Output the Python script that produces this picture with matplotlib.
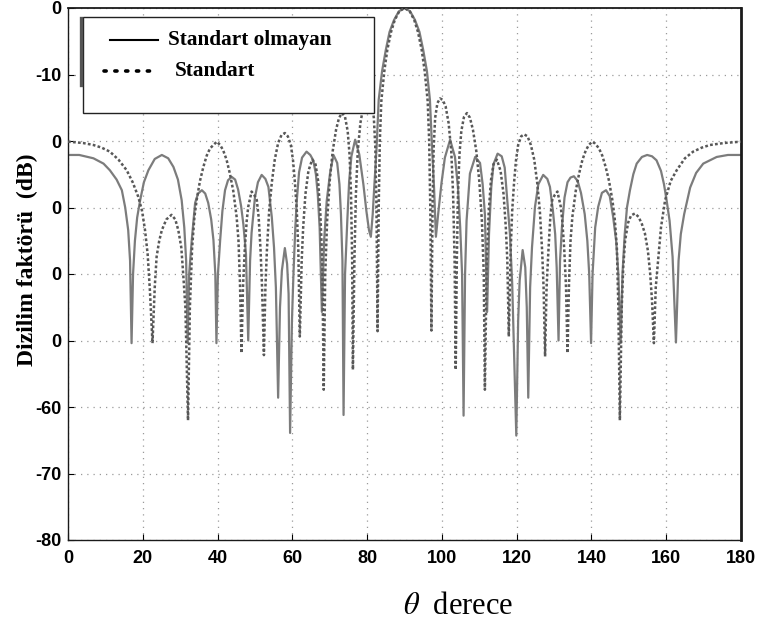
import numpy as np
import matplotlib
matplotlib.use("Agg")
import matplotlib.pyplot as plt
from matplotlib.patches import Rectangle

plt.rcParams['mathtext.fontset'] = 'stix'
plt.rcParams['axes.unicode_minus'] = False

# (theta [deg], array factor [dB]), solid curve
nonstd_left = [
    (0, -22.1), (3, -22.1), (6.8, -22.6), (9.5, -23.4), (11.2, -24.4), (13.0, -25.8),
    (14.4, -27.4), (15.3, -30.0), (16.1, -33.4), (16.6, -38.0), (17.0, -50.4), (17.4, -40.0),
    (17.9, -35.0), (18.5, -31.5), (19.3, -28.9), (20.3, -26.2), (21.5, -24.4), (23.2, -22.7),
    (25.1, -22.1), (26.8, -22.6), (28.2, -23.9), (29.4, -25.8), (30.4, -28.9), (31.1, -33.0),
    (31.6, -38.0), (32.0, -50.4), (32.4, -40.0), (33.1, -34.9), (34.0, -29.3), (34.8, -27.9),
    (35.8, -27.4), (36.7, -27.9), (37.5, -29.3), (38.3, -31.8), (38.9, -34.9), (39.4, -40.0),
    (39.7, -50.4), (40.1, -40.0), (40.7, -34.9), (41.3, -30.5), (42.0, -27.4), (42.8, -25.9),
    (43.8, -25.4), (44.7, -25.8), (45.5, -27.3), (46.3, -29.8), (46.9, -32.5), (47.6, -37.0),
    (48.2, -50.0), (48.7, -38.0), (49.1, -33.8), (50.0, -28.5), (50.8, -26.2), (51.8, -25.1),
    (52.8, -25.7), (53.6, -26.9), (54.5, -31.4), (55.1, -36.0), (55.6, -42.0), (56.2, -58.6),
    (56.7, -45.0), (57.2, -39.5), (58.0, -36.1), (58.6, -38.5), (59.0, -43.0), (59.4, -63.9),
    (59.9, -47.0), (60.3, -40.0), (60.8, -33.0), (61.2, -28.9), (61.8, -24.7), (62.6, -22.5),
    (63.8, -21.6), (64.8, -22.1), (65.6, -22.9), (66.3, -25.0), (66.8, -28.0), (67.3, -33.0),
    (67.9, -45.7), (68.5, -35.0), (69.2, -29.0), (70.1, -24.8), (71.0, -22.1), (72.0, -23.3),
    (72.6, -26.5), (73.0, -31.0), (73.4, -38.0), (73.7, -61.2), (74.1, -40.0), (74.7, -32.0),
    (75.2, -26.0), (75.8, -22.3), (76.8, -19.8), (77.9, -22.0), (79.0, -26.5), (79.8, -30.5),
    (80.5, -33.4), (81.0, -34.4), (81.5, -31.0), (81.9, -27.0), (82.5, -21.4), (83.1, -13.8),
    (84.0, -9.5), (85.0, -6.3), (86.0, -3.6), (87.2, -1.8), (88.5, -0.5), (90.0, 0.0),
]
nonstd_right = [
    (91.5, -0.5), (92.8, -1.8), (94.0, -3.6), (95.0, -6.3), (96.0, -9.5), (96.8, -13.8),
    (97.4, -21.4), (97.9, -27.0), (98.4, -34.4), (99.0, -31.0), (99.9, -26.3), (100.8, -22.5),
    (102.2, -19.8), (103.5, -22.4), (104.3, -27.0), (104.9, -33.0), (105.4, -40.0), (105.8, -61.3),
    (106.2, -40.0), (106.6, -32.0), (107.5, -24.9), (108.9, -22.4), (110.2, -23.3), (110.9, -26.5),
    (111.5, -31.0), (112.1, -45.7), (112.6, -34.0), (113.2, -27.0), (113.8, -23.5), (114.9, -21.9),
    (116.0, -22.3), (116.8, -24.0), (117.5, -28.9), (118.2, -34.0), (118.8, -41.4), (119.9, -64.3),
    (120.4, -47.0), (120.8, -41.0), (121.6, -36.4), (122.3, -39.0), (122.7, -45.0), (123.1, -58.6),
    (123.6, -42.0), (124.1, -36.0), (124.9, -29.9), (125.8, -26.5), (127.1, -25.1), (128.2, -25.7),
    (128.9, -26.9), (129.7, -30.5), (130.3, -34.0), (130.7, -39.0), (131.2, -50.0), (131.6, -38.0),
    (132.1, -33.0), (132.8, -28.5), (133.6, -26.2), (134.4, -25.5), (135.3, -25.3), (136.3, -26.0),
    (137.2, -27.8), (138.2, -31.0), (138.9, -35.0), (139.4, -40.0), (139.9, -50.4), (140.3, -40.0),
    (141.0, -33.0), (141.8, -29.9), (142.8, -27.8), (143.9, -27.4), (144.9, -28.3), (145.8, -31.4),
    (146.6, -35.0), (147.2, -40.0), (147.8, -50.4), (148.3, -40.0), (148.9, -34.0), (149.5, -30.0),
    (150.3, -27.4), (151.2, -25.0), (152.1, -23.4), (153.5, -22.4), (154.9, -22.1), (156.2, -22.3),
    (157.4, -22.9), (158.6, -24.5), (159.4, -26.5), (160.1, -28.9), (160.9, -32.0), (161.7, -37.4),
    (162.6, -50.3), (163.3, -38.0), (163.9, -34.0), (164.8, -31.0), (166.4, -27.0), (168.0, -24.8),
    (169.9, -23.4), (173.5, -22.4), (176.5, -22.1), (180.0, -22.1),
]

# dotted curve ("Standart")
std_left = [
    (0, -20.1), (4.0, -20.3), (6.8, -20.6), (9.0, -21.0), (11.2, -21.6), (13.5, -22.8),
    (15.7, -24.4), (17.3, -26.2), (18.8, -28.4), (19.8, -30.5), (20.6, -33.4), (21.3, -37.0),
    (21.9, -42.4), (22.6, -50.4), (23.2, -42.0), (23.7, -37.4), (24.4, -35.0), (25.1, -33.4),
    (26.3, -31.8), (27.7, -31.1), (28.7, -31.8), (29.5, -33.4), (30.3, -36.0), (30.8, -39.9),
    (31.4, -45.0), (32.1, -62.0), (32.6, -45.0), (33.2, -36.0), (33.8, -31.5), (34.4, -28.9),
    (35.3, -26.0), (36.2, -23.9), (37.1, -22.2), (38.0, -21.1), (39.8, -20.1), (40.7, -20.6),
    (41.5, -21.4), (42.4, -22.8), (43.3, -24.9), (44.2, -27.5), (45.1, -31.4), (45.6, -35.0),
    (46.0, -41.4), (46.4, -51.9), (46.8, -42.0), (47.3, -36.0), (47.8, -32.0), (48.2, -29.9),
    (49.1, -27.6), (49.8, -28.1), (50.5, -28.9), (51.0, -31.5), (51.5, -36.4), (51.9, -42.0),
    (52.4, -52.2), (52.8, -42.0), (53.2, -36.4), (53.8, -30.5), (54.5, -26.3), (55.3, -22.8),
    (56.2, -20.3), (57.1, -19.1), (58.0, -18.8), (58.8, -19.3), (59.6, -20.6), (60.2, -23.0),
    (60.7, -26.3), (61.2, -30.5), (61.6, -36.4), (62.0, -49.4), (62.5, -38.0), (62.9, -33.0),
    (63.5, -28.0), (64.3, -24.5), (65.3, -22.8), (66.2, -23.5), (66.9, -26.0), (67.5, -31.0),
    (68.0, -38.0), (68.4, -57.4), (68.8, -40.0), (69.3, -32.0), (70.0, -26.0), (70.8, -21.5),
    (71.7, -18.3), (72.5, -16.5), (73.3, -15.8), (74.1, -16.4), (74.8, -18.5), (75.3, -22.0),
    (75.7, -28.0), (76.0, -38.0), (76.2, -54.4), (76.6, -38.0), (77.0, -28.0), (77.5, -21.5),
    (78.2, -17.3), (79.0, -14.8), (79.8, -13.8), (80.5, -13.6), (81.2, -14.3), (81.8, -16.5),
    (82.2, -21.0), (82.5, -30.0), (82.8, -48.6), (83.1, -30.0), (83.4, -20.0), (83.8, -14.0),
    (84.6, -9.5), (85.4, -6.3), (86.4, -3.6), (87.4, -1.8), (88.6, -0.5), (90.0, 0.0),
]
std_right = [
    (91.4, -0.5), (92.6, -1.8), (93.6, -3.6), (94.6, -6.3), (95.4, -9.5), (96.2, -14.0),
    (96.6, -20.0), (96.9, -30.0), (97.2, -48.5), (97.5, -30.0), (97.8, -21.0), (98.2, -16.5),
    (98.8, -14.3), (99.5, -13.6), (100.2, -13.8), (101.0, -14.8), (101.8, -17.3), (102.5, -21.5),
    (103.0, -28.0), (103.4, -38.0), (103.7, -54.4), (104.0, -38.0), (104.3, -28.0), (104.7, -22.0),
    (105.2, -18.5), (105.9, -16.4), (106.7, -15.8), (107.5, -16.5), (108.3, -18.3), (109.2, -21.5),
    (110.0, -26.0), (110.7, -32.0), (111.2, -40.0), (111.5, -57.4), (112.0, -38.0), (112.5, -31.0),
    (113.1, -26.0), (113.8, -23.5), (114.7, -22.8), (115.7, -24.5), (116.5, -28.0), (117.1, -33.0),
    (117.5, -38.0), (117.9, -49.4), (118.4, -36.4), (118.8, -30.5), (119.3, -26.3), (119.8, -23.0),
    (120.4, -20.6), (121.2, -19.3), (122.0, -19.0), (122.9, -19.3), (123.8, -20.6), (124.7, -22.8),
    (125.5, -26.3), (126.2, -30.5), (126.8, -36.4), (127.2, -42.0), (127.6, -52.4), (128.0, -42.0),
    (128.5, -36.4), (129.0, -31.5), (129.5, -28.9), (130.2, -28.1), (130.9, -27.6), (131.8, -29.9),
    (132.2, -32.0), (132.7, -36.0), (133.2, -42.0), (133.6, -51.9), (134.0, -41.4), (134.4, -35.0),
    (134.9, -31.4), (135.8, -27.5), (136.7, -24.9), (137.6, -22.8), (138.5, -21.4), (139.3, -20.6),
    (140.2, -20.1), (141.0, -20.4), (142.0, -21.1), (142.9, -22.2), (143.8, -23.9), (144.7, -26.0),
    (145.6, -28.9), (146.2, -31.5), (146.8, -36.0), (147.2, -45.0), (147.6, -62.0), (148.1, -45.0),
    (148.5, -39.0), (149.0, -35.0), (149.8, -32.3), (150.6, -31.2), (151.6, -30.9), (152.6, -31.4),
    (153.5, -32.5), (154.3, -33.9), (155.1, -36.5), (155.7, -39.9), (156.2, -44.0), (156.7, -50.4),
    (157.2, -42.0), (157.9, -37.5), (158.6, -33.0), (159.7, -28.9), (161.2, -26.0), (162.8, -24.4),
    (165.0, -22.6), (167.2, -21.6), (169.5, -21.0), (171.7, -20.6), (175.5, -20.3), (180.0, -20.1),
]

x_ticks = list(range(0, 181, 20))
y_ticks = list(range(-80, 1, 10))
# in the reference the y label hides the "-2", "-3", "-4", "-5" of the middle labels
y_ticklabels = ["-80", "-70", "-60", "0", "0", "0", "0", "-10", "0"]
legend_labels = ["Standart olmayan", "Standart"]
x_label = r"$\theta$  derece"
y_label = "Dizilim faktörü  (dB)"

W, H = 763, 631
fig = plt.figure(figsize=(W / 100, H / 100), dpi=100)
# axes box: x 68..741 px, y 8..540 px
ax = fig.add_axes([68 / W, 1 - 540 / H, 673 / W, 532 / H])

ns = np.array(nonstd_left + nonstd_right)
st = np.array(std_left + std_right)
ax.plot(ns[:, 0], ns[:, 1], color='#7c7c7c', lw=1.6, zorder=2)
ax.plot(st[:, 0], st[:, 1], color='#585858', lw=1.8, linestyle=(0, (1.1, 0.9)), zorder=3)

ax.set_xlim(0, 180)
ax.set_ylim(-80, 0)
ax.set_xticks(x_ticks)
ax.set_yticks(y_ticks)
ax.set_yticklabels(y_ticklabels)
ax.grid(True, color='#9a9a9a', linestyle=(0, (1, 4)), lw=0.9)
ax.tick_params(direction='in', length=4, width=0.8, labelsize=13)
ax.tick_params(axis='x', pad=7)
ax.tick_params(axis='y', pad=5)
for lab in ax.get_xticklabels() + ax.get_yticklabels():
    lab.set_fontfamily('Liberation Sans')
    lab.set_fontweight('bold')
for side, sp in ax.spines.items():
    sp.set_color('#1a1a1a')
    sp.set_linewidth(1.0)
ax.spines['right'].set_linewidth(2.0)
ax.spines['top'].set_linewidth(1.3)

# legend box drawn by hand (axes fractions)
ax.add_patch(Rectangle((0.0223, 0.8026), 0.4324, 0.1804, transform=ax.transAxes,
                       facecolor='white', edgecolor='#222222', lw=1.0, zorder=10))
ax.plot([0.0193, 0.0193], [0.855, 0.981], transform=ax.transAxes, color='#555555',
        lw=2.4, clip_on=False, zorder=11)
ax.plot([0.062, 0.134], [0.940, 0.940], transform=ax.transAxes, color='black',
        lw=1.5, zorder=11)
ax.plot([0.054, 0.134], [0.8816, 0.8816], transform=ax.transAxes, color='black',
        lw=2.6, linestyle=(0, (0.6, 2.4)), dash_capstyle='round', zorder=11)
ax.text(0.1486, 0.940, legend_labels[0], transform=ax.transAxes, ha='left', va='center',
        fontsize=15.3, fontweight='bold', family='Liberation Serif', zorder=12)
ax.text(0.159, 0.8816, legend_labels[1], transform=ax.transAxes, ha='left', va='center',
        fontsize=15.3, fontweight='bold', family='Liberation Serif', zorder=12)

fig.text(27 / W, 1 - 260 / H, y_label, rotation=90, ha='center', va='center',
         fontsize=17, fontweight='bold', family='Liberation Serif')
fig.text(458 / W, 1 - 606 / H, x_label, ha='center', va='center',
         fontsize=22, family='Liberation Serif')

fig.savefig('out.png', dpi=100, facecolor='white')
